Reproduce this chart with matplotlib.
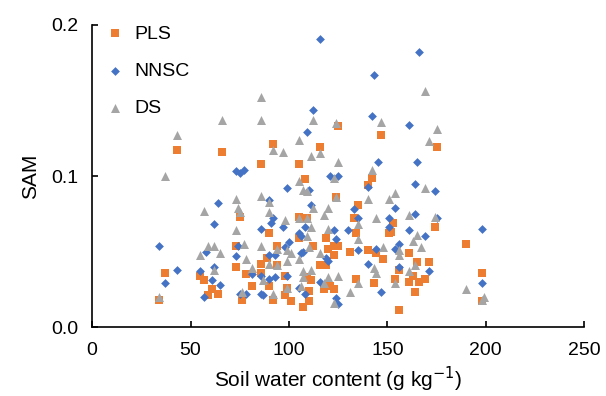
import matplotlib
matplotlib.use("Agg")
from matplotlib import pyplot as plt

plt.rcParams['font.family'] = ['Liberation Sans', 'DejaVu Sans']

# soil water content (g kg-1) and SAM for each method
pls_x = [43, 66, 92, 116, 125, 147, 175, 86, 105, 142, 108, 37, 34, 55, 57, 61, 59, 64,
         75, 73, 73, 78, 81, 76, 90, 86, 86, 90, 92, 105, 105, 112, 94, 89, 98, 109, 111,
         101, 107, 110, 99, 110, 118, 123, 131, 120, 123, 125, 119, 134, 134, 135, 124,
         140, 109, 133, 123, 140, 116, 119, 94, 121, 98, 174, 153, 151, 152, 190, 144,
         161, 148, 165, 171, 156, 163, 169, 154, 161, 166, 143, 164, 156, 198, 198]
pls_y = [0.117, 0.116, 0.121, 0.119, 0.133, 0.127, 0.119, 0.108, 0.108, 0.099, 0.098,
         0.036, 0.018, 0.034, 0.031, 0.025, 0.021, 0.022, 0.073, 0.054, 0.040, 0.035,
         0.027, 0.018, 0.062, 0.042, 0.036, 0.027, 0.018, 0.073, 0.059, 0.054, 0.054,
         0.046, 0.034, 0.033, 0.031, 0.017, 0.013, 0.017, 0.026, 0.024, 0.025, 0.025,
         0.050, 0.052, 0.054, 0.054, 0.059, 0.032, 0.062, 0.081, 0.086, 0.094, 0.072,
         0.072, 0.048, 0.051, 0.041, 0.041, 0.041, 0.027, 0.021, 0.066, 0.069, 0.062,
         0.063, 0.055, 0.049, 0.049, 0.045, 0.043, 0.043, 0.038, 0.034, 0.032, 0.032,
         0.030, 0.030, 0.029, 0.023, 0.011, 0.036, 0.017]

nnsc_x = [116, 166, 143, 112, 142, 161, 109, 145, 165, 73, 75, 77, 121, 125, 34, 37, 43,
          64, 62, 58, 55, 61, 57, 65, 73, 81, 75, 78, 90, 92, 91, 86, 90, 86, 86, 87, 74,
          62, 99, 111, 97, 105, 106, 108, 93, 98, 100, 107, 90, 93, 99, 105, 108, 124,
          125, 116, 119, 120, 135, 130, 133, 135, 110, 123, 124, 106, 140, 164, 174, 154,
          151, 164, 175, 151, 161, 169, 144, 154, 156, 156, 171, 147, 140, 198, 198]
nnsc_y = [0.191, 0.182, 0.167, 0.144, 0.140, 0.134, 0.129, 0.109, 0.109, 0.103, 0.102,
          0.104, 0.100, 0.100, 0.054, 0.029, 0.038, 0.082, 0.068, 0.050, 0.037, 0.031,
          0.020, 0.028, 0.047, 0.035, 0.022, 0.022, 0.084, 0.072, 0.069, 0.065, 0.048,
          0.034, 0.022, 0.021, 0.054, 0.040, 0.092, 0.081, 0.066, 0.062, 0.060, 0.066,
          0.048, 0.053, 0.056, 0.050, 0.032, 0.033, 0.034, 0.026, 0.022, 0.019, 0.015,
          0.030, 0.046, 0.044, 0.051, 0.064, 0.078, 0.072, 0.091, 0.064, 0.058, 0.049,
          0.042, 0.095, 0.090, 0.079, 0.072, 0.075, 0.072, 0.066, 0.064, 0.060, 0.052,
          0.052, 0.055, 0.040, 0.037, 0.023, 0.093, 0.065, 0.029]

ds_x = [86, 66, 86, 112, 124, 105, 92, 97, 116, 111, 125, 169, 147, 175, 171, 142, 43,
        123, 105, 37, 34, 57, 59, 62, 55, 62, 65, 73, 74, 75, 73, 77, 78, 81, 76, 86, 90,
        90, 86, 94, 90, 87, 92, 94, 107, 109, 98, 105, 109, 112, 109, 110, 99, 101, 107,
        107, 111, 99, 116, 120, 125, 131, 135, 123, 120, 118, 120, 135, 135, 140, 111,
        99, 105, 118, 106, 124, 169, 154, 151, 144, 161, 174, 165, 163, 167, 148, 156,
        156, 164, 143, 144, 161, 154, 190, 198, 199]
ds_y = [0.152, 0.137, 0.137, 0.137, 0.135, 0.124, 0.117, 0.116, 0.115, 0.113, 0.109,
        0.156, 0.136, 0.131, 0.123, 0.104, 0.127, 0.099, 0.097, 0.100, 0.020, 0.077,
        0.054, 0.054, 0.048, 0.038, 0.049, 0.085, 0.079, 0.076, 0.064, 0.055, 0.045,
        0.039, 0.023, 0.087, 0.083, 0.076, 0.054, 0.052, 0.042, 0.031, 0.022, 0.041,
        0.091, 0.090, 0.071, 0.072, 0.072, 0.079, 0.060, 0.053, 0.051, 0.049, 0.037,
        0.033, 0.038, 0.026, 0.049, 0.033, 0.034, 0.023, 0.029, 0.016, 0.079, 0.074,
        0.065, 0.068, 0.058, 0.085, 0.066, 0.044, 0.045, 0.029, 0.027, 0.086, 0.092,
        0.089, 0.085, 0.072, 0.074, 0.073, 0.061, 0.057, 0.053, 0.053, 0.051, 0.048,
        0.041, 0.039, 0.036, 0.037, 0.029, 0.025, 0.018, 0.020]

fig = plt.figure(figsize=(6.06, 3.96), dpi=100)
ax = fig.add_axes([0.152, 0.174, 0.812, 0.763])

ax.scatter(pls_x, pls_y, marker='s', s=28, color='#ED7D31', linewidths=0, label='PLS')
ax.scatter(nnsc_x, nnsc_y, marker='D', s=20, color='#4472C4', linewidths=0, label='NNSC')
ax.scatter(ds_x, ds_y, marker='^', s=42, color='#A5A5A5', linewidths=0, label='DS')

ax.set_xlim(0, 250)
ax.set_ylim(0, 0.2)
ax.set_xticks([0, 50, 100, 150, 200, 250])
ax.set_yticks([0.0, 0.1, 0.2])
ax.set_yticklabels(['0.0', '0.1', '0.2'])
ax.tick_params(direction='in', length=4, width=1.2, labelsize=14)
ax.tick_params(axis='y', pad=10)
ax.tick_params(axis='x', pad=11)
ax.spines['top'].set_visible(False)
ax.spines['right'].set_visible(False)
for s in ['left', 'bottom']:
    ax.spines[s].set_linewidth(1.2)

ax.set_xlabel('Soil water content (g kg$^{-1}$)', fontsize=15, labelpad=4)
ax.set_ylabel('SAM', fontsize=15, labelpad=8)

ax.legend(loc='upper left', frameon=False, fontsize=14, handletextpad=0.4,
          labelspacing=1.0, borderpad=0.0, borderaxespad=0.0,
          bbox_to_anchor=(0.022, 1.0), handlelength=1.2, scatterpoints=1)

fig.savefig('out.png', dpi=100)
